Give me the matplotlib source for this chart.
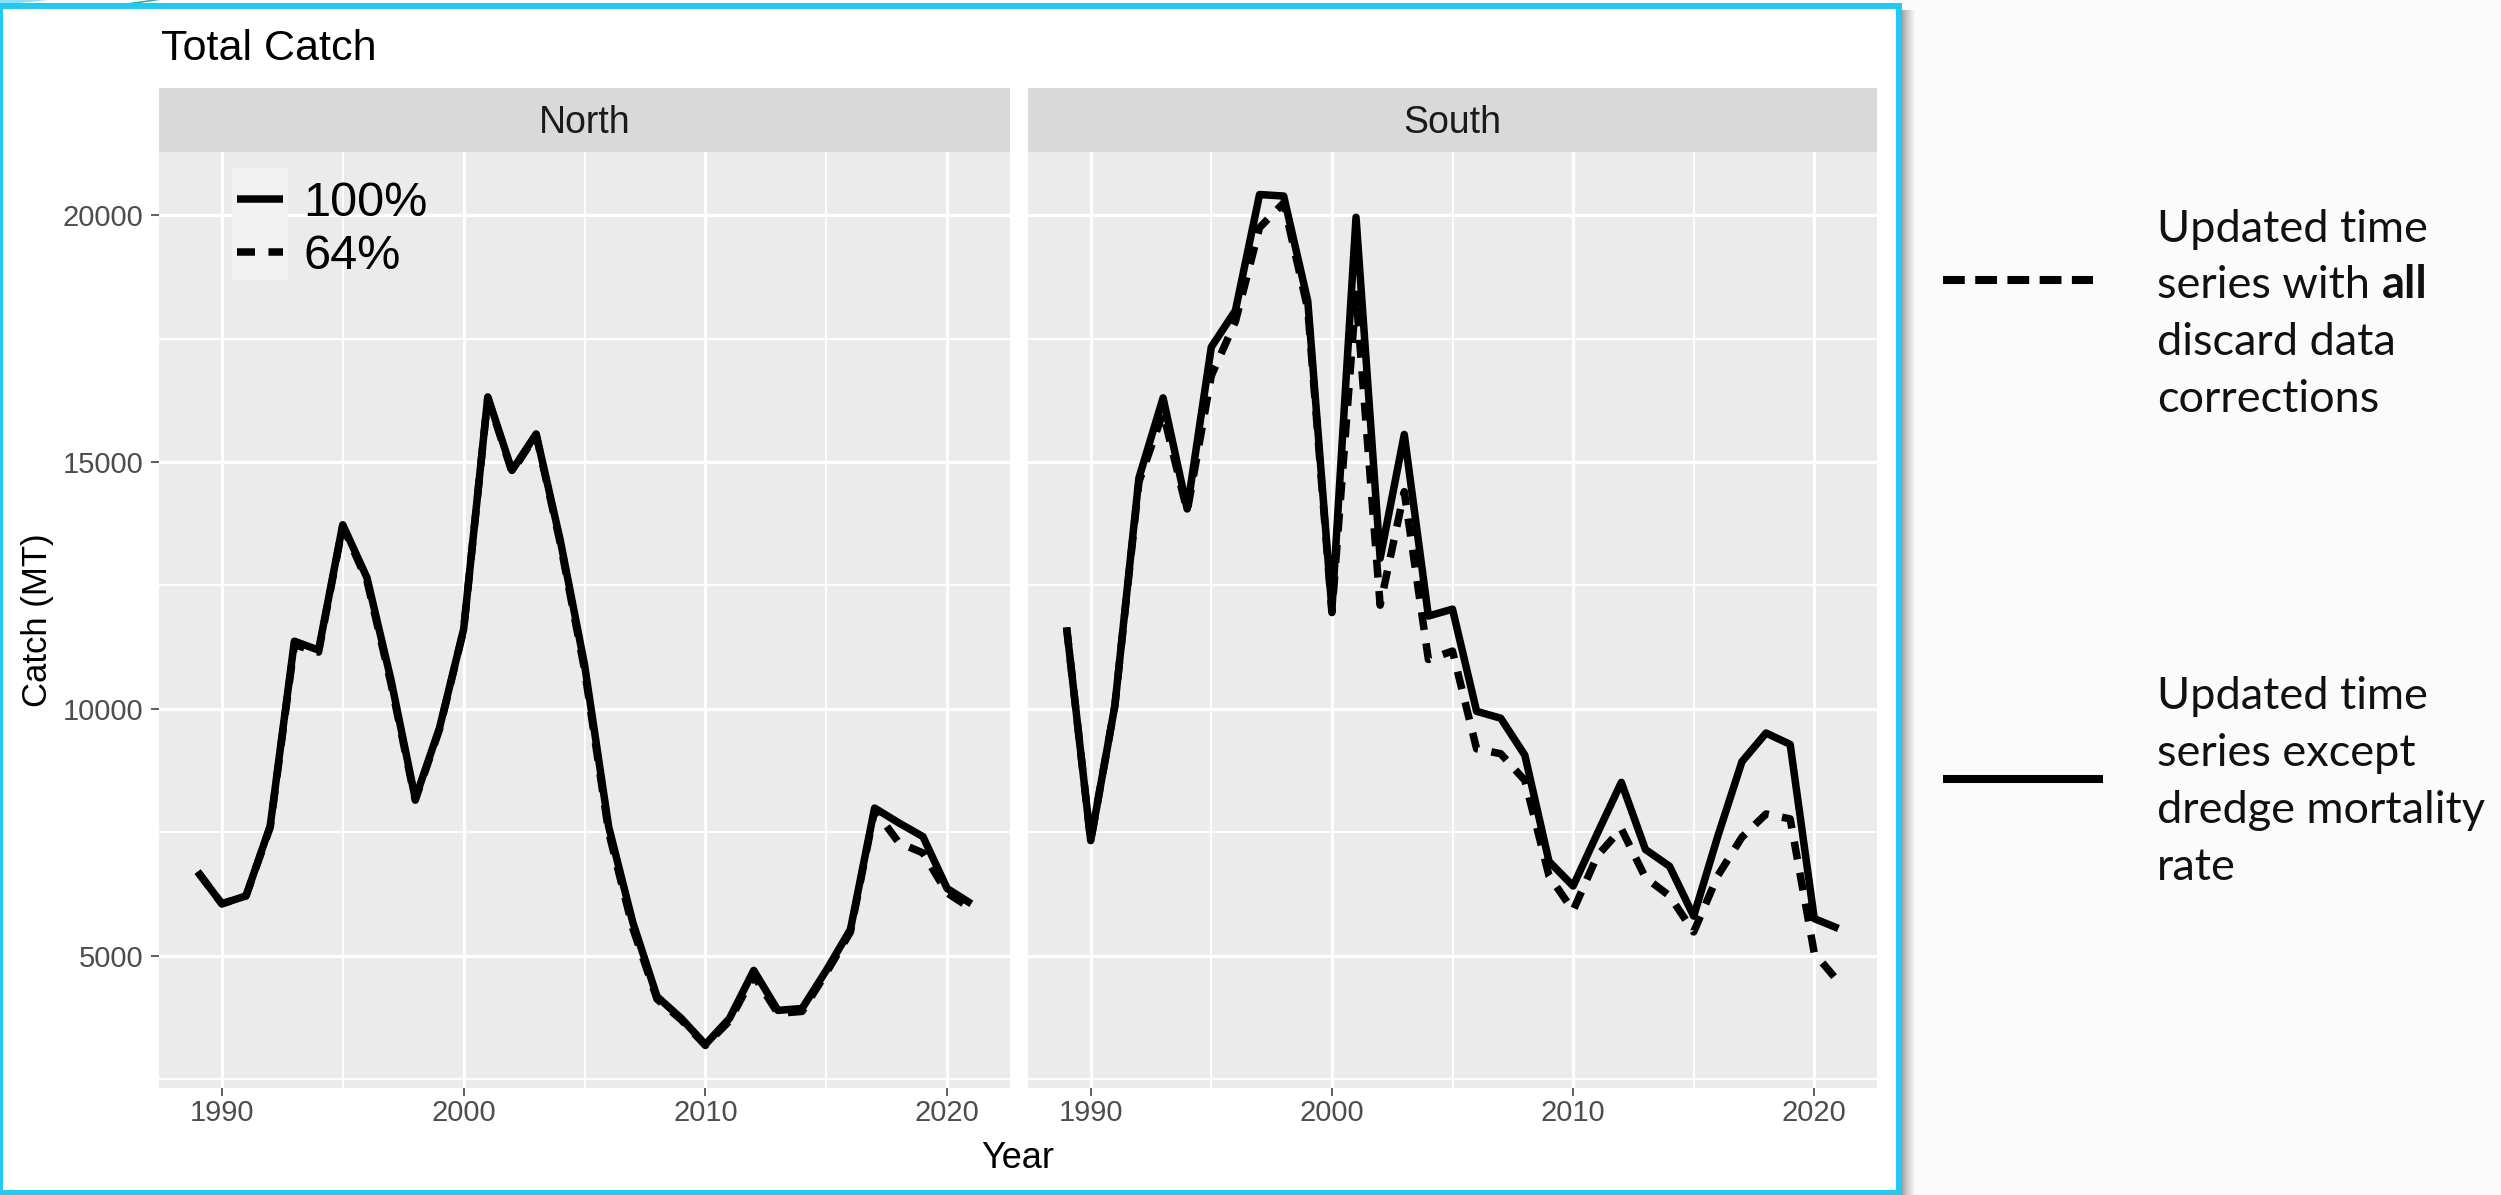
import matplotlib
matplotlib.use('Agg')
import matplotlib.pyplot as plt
from matplotlib.patches import Rectangle, Polygon

W, H = 2501, 1195
DPI = 100

# ---------------- data ----------------
years = list(range(1989, 2022))
north_100 = [6700, 6050, 6210, 7630, 11370, 11190, 13730, 12660, 10580, 8180,
             9610, 11610, 16320, 14830, 15570, 13410, 10900, 7610, 5670, 4170,
             3730, 3200, 3730, 4700, 3890, 3930, 4700, 5530, 7990, 7690,
             7410, 6360, 6050]
north_64 = [6700, 6050, 6210, 7600, 11300, 11150, 13700, 12600, 10500, 8150,
            9580, 11600, 16300, 14800, 15550, 13350, 10800, 7500, 5550, 4120,
            3700, 3180, 3680, 4600, 3830, 3870, 4650, 5480, 7950, 7290,
            7080, 6270, 5950]
south_100 = [11650, 7330, 10060, 14680, 16300, 14050, 17330, 18070, 20420, 20390,
             18260, 12010, 19960, 13050, 15560, 11880, 12020, 9950, 9810, 9060,
             6910, 6410, 7470, 8510, 7150, 6810, 5800, 7420, 8930, 9510,
             9280, 5750, 5550]
south_64 = [11650, 7330, 10060, 14600, 16000, 14000, 16750, 17850, 19750, 20250,
            18100, 11950, 18400, 12100, 14400, 11000, 11170, 9190, 9090, 8550,
            6620, 5910, 7020, 7570, 6580, 6210, 5480, 6620, 7400, 7870,
            7770, 5050, 4470]
panels = ['North', 'South']
series_labels = ['100%', '64%']
x_major = [1990, 2000, 2010, 2020]
x_minor = [1995, 2005, 2015]
y_major = [5000, 10000, 15000, 20000]
y_minor = [2500, 7500, 12500, 17500]
title = 'Total Catch'
xlabel = 'Year'
ylabel = 'Catch (MT)'
note1 = ['Updated time', 'series with ', 'discard data', 'corrections']
note1_bold = 'all'
note2 = ['Updated time', 'series except', 'dredge mortality', 'rate']

# ---------------- style ----------------
plt.rcParams['font.family'] = ['Liberation Sans', 'DejaVu Sans']
LW = 5.4
DASH = (0, (2.4, 1.8))
PANEL_BG = '#ebebeb'
STRIP_BG = '#d9d9d9'
CYAN = '#22c9f2'

fig = plt.figure(figsize=(W / DPI, H / DPI), dpi=DPI, facecolor='white')


def px_axes(x0, y0, x1, y1, **kw):
    return fig.add_axes([x0 / W, 1 - y1 / H, (x1 - x0) / W, (y1 - y0) / H], **kw)


# background / frame layer in pixel coordinates
bg = px_axes(0, 0, W, H, zorder=-10)
bg.set_xlim(0, W)
bg.set_ylim(H, 0)
bg.axis('off')
bg.add_patch(Rectangle((1902, 0), W - 1902, H, color='#fbfbfb', lw=0))
for i in range(14):
    g = 0.64 + 0.345 * (i / 13) ** 0.8
    bg.add_patch(Rectangle((1902 + i, 10), 1, H - 10, color=(g, g, g), lw=0))
# decorative swoosh at top-left
bg.add_patch(Polygon([(0, 0), (48, 0), (20, 3), (0, 4)], closed=True, color='#86e3f3', lw=0))
bg.add_patch(Polygon([(128, 3), (150, 0), (160, 0), (140, 3)], closed=True, color='#22b2a6', lw=0))
# cyan frame
for (x0, y0, x1, y1) in [(0, 3, 1902, 9), (0, 3, 3, H), (1896, 3, 1902, H), (0, 1190, 1902, H)]:
    bg.add_patch(Rectangle((x0, y0), x1 - x0, y1 - y0, color=CYAN, lw=0))

# y range (ggplot 5% expansion)
all_vals = north_100 + north_64 + south_100 + south_64
lo, hi = min(all_vals), max(all_vals)
pad = 0.05 * (hi - lo)
ylim = (lo - pad, hi + pad)
xpad = 0.05 * (years[-1] - years[0])
xlim = (years[0] - xpad, years[-1] + xpad)

panel_px = [(159, 1010), (1028, 1877)]
data = [(north_100, north_64), (south_100, south_64)]
axes = []
for k, (name, (x0, x1), (v100, v64)) in enumerate(zip(panels, panel_px, data)):
    ax = px_axes(x0, 152, x1, 1088)
    ax.set_facecolor(PANEL_BG)
    ax.set_axisbelow(True)
    for s in ax.spines.values():
        s.set_visible(False)
    ax.set_xlim(*xlim)
    ax.set_ylim(*ylim)
    ax.set_xticks(x_major)
    ax.set_xticklabels([str(v) for v in x_major])
    ax.set_xticks(x_minor, minor=True)
    ax.set_yticks(y_major)
    ax.set_yticklabels([str(v) for v in y_major])
    ax.set_yticks(y_minor, minor=True)
    ax.grid(which='major', color='white', lw=2.3)
    ax.grid(which='minor', color='white', lw=1.3)
    ax.tick_params(which='minor', length=0)
    ax.tick_params(which='major', length=5.5, width=1.1, color='#333333',
                   labelsize=21, labelcolor='#4d4d4d')
    ax.tick_params(axis='x', pad=2.5)
    ax.tick_params(axis='y', pad=5.5)
    if k == 1:
        ax.tick_params(axis='y', left=False, labelleft=False)
    l1, = ax.plot(years, v100, color='black', lw=LW, solid_joinstyle='round',
                  solid_capstyle='butt', zorder=2)
    l2, = ax.plot(years, v64, color='black', lw=LW, ls=DASH, dash_joinstyle='round',
                  dash_capstyle='butt', zorder=2)
    axes.append((ax, l1, l2))

    st = px_axes(x0, 88, x1, 152)
    st.set_facecolor(STRIP_BG)
    st.set_xticks([])
    st.set_yticks([])
    for s in st.spines.values():
        s.set_visible(False)
    st.set_xlim(0, 1)
    st.set_ylim(152, 88)
    st.text(0.5, 133, name, fontsize=27, color='#1a1a1a', ha='center', va='baseline')

# legend inside North panel
axN, l1, l2 = axes[0]
axN.add_patch(Rectangle((232 / W, 1 - 280 / H), 56 / W, 112 / H, transform=fig.transFigure,
                        color='#f2f2f2', lw=0, zorder=1))
leg = axN.legend([l1, l2], series_labels, loc='upper left',
                 bbox_to_anchor=(237 / W, 1 - 181 / H), bbox_transform=fig.transFigure,
                 frameon=False, fontsize=35, handlelength=0.95, handletextpad=0.42,
                 labelspacing=0.17, borderpad=0, borderaxespad=0)
leg.set_zorder(5)

# titles
fig.text(161 / W, 1 - 60 / H, title, fontsize=31, ha='left', va='baseline')
fig.text(1018 / W, 1 - 1168 / H, xlabel, fontsize=26, ha='center', va='baseline')
fig.text(37 / W, 1 - 620 / H, ylabel, fontsize=25, ha='center', va='center', rotation=90)

# right-hand annotation
ov = px_axes(1902, 0, W, H, zorder=10)
ov.set_xlim(1902, W)
ov.set_ylim(H, 0)
ov.axis('off')
ov.plot([1943, 2093], [280, 280], color='black', lw=5.8, ls=(0, (2.7, 1.3)),
        dash_capstyle='butt')
ov.plot([1943, 2103], [779, 779], color='black', lw=5.8, solid_capstyle='butt')
NFONT = ['Lato', 'DejaVu Sans']
base1 = [242, 298, 355, 412]
base2 = [709, 766, 823, 880]
for i, (txt, yb) in enumerate(zip(note1, base1)):
    t = ov.text(2157, yb, txt, fontsize=32.5, family=NFONT, ha='left', va='baseline', color='#111111')
    if i == 1:
        ov.annotate(note1_bold, xy=(1, 0), xycoords=t, fontsize=32.5, family=NFONT,
                    fontweight='bold', ha='left', va='bottom', color='#111111')
for txt, yb in zip(note2, base2):
    ov.text(2157, yb, txt, fontsize=32.5, family=NFONT, ha='left', va='baseline', color='#111111')

fig.savefig('out.png', dpi=DPI, facecolor='white')
